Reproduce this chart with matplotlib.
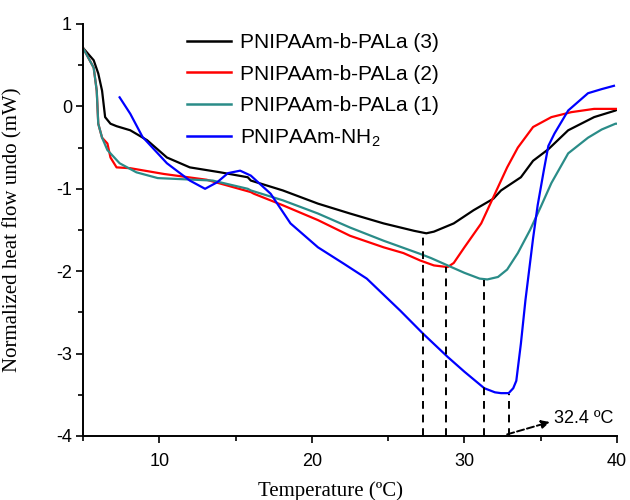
import matplotlib
matplotlib.use("Agg")
import matplotlib.pyplot as plt
from matplotlib.ticker import MultipleLocator

plt.rcParams['font.family'] = ['Liberation Sans', 'DejaVu Sans']
plt.rcParams['axes.unicode_minus'] = False
plt.rcParams['mathtext.fontset'] = 'custom'
plt.rcParams['mathtext.rm'] = 'Liberation Sans'
plt.rcParams['mathtext.it'] = 'Liberation Sans:italic'
plt.rcParams['mathtext.bf'] = 'Liberation Sans:bold'

# ---- data ----
black_x = [5.0, 5.7, 6.0, 6.25, 6.45, 6.8, 7.2, 8.1, 9.2, 10.5, 12.0, 14.0, 15.8, 16.0,
           18.1, 20.4, 22.5, 24.7, 26.7, 27.5, 28.0, 29.3, 30.6, 31.9, 32.4, 33.7, 34.5,
           35.5, 36.8, 38.5, 39.9, 40.0]
black_y = [0.71, 0.56, 0.40, 0.19, -0.13, -0.21, -0.24, -0.29, -0.41, -0.62, -0.74, -0.80,
           -0.86, -0.90, -1.02, -1.18, -1.30, -1.42, -1.51, -1.54, -1.52, -1.42, -1.26,
           -1.12, -1.02, -0.86, -0.66, -0.52, -0.29, -0.13, -0.05, -0.04]

red_x = [5.0, 5.7, 5.9, 6.0, 6.25, 6.6, 6.8, 7.2, 8.1, 10.3, 13.1, 16.0, 16.2, 18.1, 20.4,
         22.5, 24.7, 26.0, 27.1, 28.0, 28.9, 29.3, 30.0, 31.1, 31.9, 32.8, 33.5, 34.5,
         35.7, 37.0, 38.5, 39.9, 40.0]
red_y = [0.71, 0.47, 0.19, -0.21, -0.38, -0.45, -0.62, -0.74, -0.75, -0.82, -0.89, -1.04,
         -1.06, -1.20, -1.38, -1.57, -1.71, -1.78, -1.87, -1.93, -1.95, -1.90, -1.71,
         -1.42, -1.10, -0.74, -0.50, -0.25, -0.13, -0.07, -0.03, -0.03, -0.03]

teal_x = [5.0, 5.7, 5.9, 6.0, 6.25, 6.6, 7.4, 8.5, 9.9, 13.5, 15.8, 16.0, 18.1, 20.4,
          22.5, 24.7, 27.1, 27.8, 28.9, 30.0, 31.0, 31.5, 32.2, 32.8, 33.5, 34.3, 35.0,
          35.7, 36.8, 38.1, 39.0, 39.9, 40.0]
teal_y = [0.71, 0.47, 0.19, -0.21, -0.38, -0.53, -0.69, -0.80, -0.87, -0.90, -1.00, -1.02,
          -1.14, -1.30, -1.47, -1.63, -1.79, -1.84, -1.93, -2.02, -2.09, -2.10, -2.07,
          -1.98, -1.78, -1.50, -1.22, -0.93, -0.57, -0.38, -0.28, -0.21, -0.21]

blue_x = [7.4, 8.1, 8.9, 10.5, 12.0, 13.0, 13.8, 14.5, 15.3, 16.0, 17.3, 18.6, 20.4, 22.1,
          23.6, 25.8, 27.3, 28.9, 30.0, 31.3, 32.0, 32.4, 32.9, 33.2, 33.4, 33.7, 34.0,
          34.5, 34.8, 35.2, 35.5, 35.9, 36.8, 38.1, 39.0, 39.8]
blue_y = [0.11, -0.09, -0.37, -0.69, -0.90, -1.00, -0.92, -0.81, -0.78, -0.84, -1.06, -1.42,
          -1.71, -1.91, -2.09, -2.48, -2.76, -3.04, -3.22, -3.42, -3.47, -3.48, -3.48,
          -3.42, -3.33, -2.88, -2.35, -1.60, -1.20, -0.78, -0.48, -0.33, -0.05, 0.16, 0.21, 0.25]

labels = ['PNIPAAm-b-PALa (3)', 'PNIPAAm-b-PALa (2)', 'PNIPAAm-b-PALa (1)', 'PNIPAAm-NH$_2$']
colors = ['#000000', '#ff0000', '#2a8c88', '#0000ff']

# transition temperatures marked by dashed drop lines (x, curve minimum)
mark_x = [27.3, 28.8, 31.3, 32.9]
mark_top = [-1.54, -1.95, -2.11, -3.49]
annot_text = '32.4 ºC'

x_ticks = [10, 20, 30, 40]
y_ticks = [-4, -3, -2, -1, 0, 1]

# ---- figure ----
fig = plt.figure(figsize=(6.3, 5.0), dpi=100)
ax = fig.add_axes([83/630, 1 - 436/500, (617-83)/630, (436-24)/500])

series = [(black_x, black_y), (red_x, red_y), (teal_x, teal_y), (blue_x, blue_y)]
for (xs, ys), c, lab in zip(series, colors, labels):
    ax.plot(xs, ys, color=c, lw=1.6, label=lab)

for xm, yt in zip(mark_x, mark_top):
    ax.plot([xm, xm], [-4, yt], color='black', lw=1.4, ls=(0, (4, 3)))

ax.annotate(annot_text, xy=(35.6, -3.83), xytext=(35.9, -3.79),
            fontsize=13, va='center', ha='left')
ax.annotate('', xy=(35.6, -3.83), xytext=(32.8, -3.98),
            arrowprops=dict(arrowstyle='-|>', color='black', lw=1.4, ls='--',
                            mutation_scale=12, shrinkA=0, shrinkB=0))

ax.set_xlim(5, 40)
ax.set_ylim(-4, 1)
ax.set_xticks(x_ticks)
ax.set_yticks(y_ticks)
ax.xaxis.set_minor_locator(MultipleLocator(5))
ax.yaxis.set_minor_locator(MultipleLocator(0.5))
ax.tick_params(which='major', direction='out', length=5, width=1.2, labelsize=13)
ax.tick_params(which='minor', direction='out', length=3.5, width=1.2)
ax.tick_params(axis='x', which='major', pad=7)
ax.tick_params(axis='y', which='major', pad=3)
for s in ['top', 'right']:
    ax.spines[s].set_visible(False)
for s in ['left', 'bottom']:
    ax.spines[s].set_linewidth(1.4)

ax.set_xlabel('Temperature (ºC)', family=['Liberation Serif', 'DejaVu Serif'], fontsize=15)
ax.set_ylabel('Normalized heat flow undo (mW)', family=['Liberation Serif', 'DejaVu Serif'], fontsize=15)
ax.xaxis.set_label_coords((330-83)/534, -(481-436)/412)
ax.yaxis.set_label_coords(-(83-22)/534, 0.5)

leg = ax.legend(loc='upper left', bbox_to_anchor=((187-83)/534, (436-33)/412),
                frameon=False, fontsize=15, handlelength=2.1, handletextpad=0.45,
                labelspacing=0.6, borderpad=0, borderaxespad=0)
for l in leg.get_lines():
    l.set_linewidth(1.8)

fig.savefig('out.png', dpi=100)
